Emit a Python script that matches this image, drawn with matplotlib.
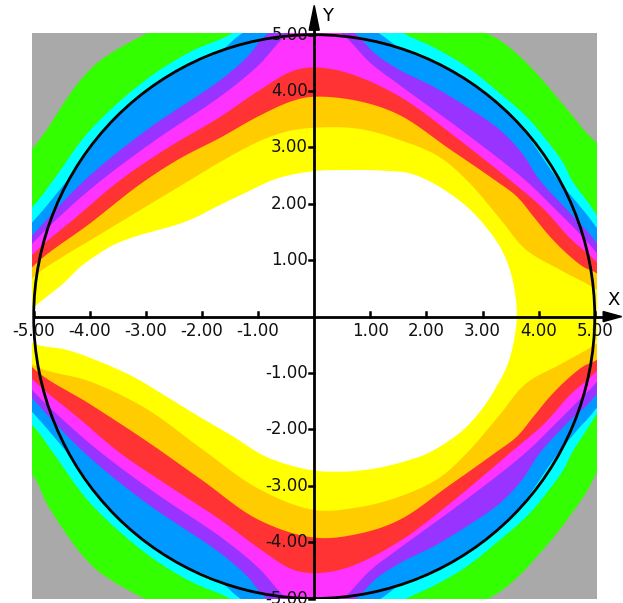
import numpy as np
import matplotlib
matplotlib.use("Agg")
import matplotlib.pyplot as plt
from matplotlib.patches import Circle, Polygon

# ---------------- data ----------------
# band colours, outermost (background) to innermost
band_colors = ["#A9A9A9", "#33FF00", "#00FFFF", "#0099FF", "#9933FF",
               "#FF33FF", "#FF3333", "#FFCC00", "#FFFF00", "#FFFFFF"]

# closed contour boundaries (x, y); region inside gets the next inner colour
edge_green = [(-5.8, 2.0), (-5.07, 2.92), (-4.77, 3.31), (-4.47, 3.78), (-4.17, 4.19), (-3.88, 4.49),
              (-3.58, 4.70), (-3.28, 4.87), (-2.93, 5.05), (-1.5, 5.8), (0.0, 6.2), (1.5, 5.8),
              (2.96, 5.08), (3.31, 4.90), (3.67, 4.61), (4.02, 4.25), (4.32, 3.90), (4.62, 3.54),
              (4.86, 3.25), (5.06, 3.04), (5.8, 1.5), (6.2, 0.0), (5.8, -1.5), (5.03, -2.78),
              (4.86, -3.1), (4.62, -3.45), (4.32, -3.85), (4.02, -4.2), (3.67, -4.58), (3.31, -4.88),
              (3.0, -5.05), (1.5, -5.8), (0.0, -6.2), (-1.5, -5.8), (-2.93, -5.05), (-3.28, -4.87),
              (-3.58, -4.70), (-3.88, -4.49), (-4.17, -4.19), (-4.47, -3.78), (-4.77, -3.31),
              (-5.0, -2.84), (-5.8, -2.0), (-6.2, 0.0)]
edge_cyan = [(-6.0, 1.0), (-5.0, 1.97), (-4.65, 2.42), (-4.0, 3.3), (-3.0, 4.2), (-2.2, 4.7), (-1.50, 5.0),
             (0.0, 5.9), (1.64, 5.0), (2.12, 4.78), (2.72, 4.43), (3.31, 3.96), (3.79, 3.54), (4.14, 3.13),
             (4.44, 2.72), (4.59, 2.42), (5.0, 1.85), (6.0, 0.0), (5.0, -1.78), (4.59, -2.42), (4.44, -2.72),
             (4.14, -3.13), (3.79, -3.54), (3.31, -3.96), (2.72, -4.43), (2.12, -4.78), (1.64, -5.0),
             (0.0, -5.9), (-1.50, -5.0), (-2.2, -4.7), (-3.0, -4.2), (-4.0, -3.3), (-4.65, -2.42),
             (-5.0, -1.95), (-6.0, -1.0)]
edge_blue = [(-5.9, 0.8), (-5.0, 1.70), (-4.40, 2.42), (-3.5, 3.57), (-2.5, 4.33), (-1.68, 4.70), (-1.32, 5.0),
             (0.0, 5.7), (1.19, 5.0), (1.53, 4.76), (2.5, 4.33), (3.5, 3.57), (4.35, 2.42), (4.7, 2.0),
             (5.0, 1.62), (6.0, 0.0), (5.0, -1.66), (4.7, -2.0), (4.35, -2.42), (3.5, -3.57), (2.5, -4.33),
             (1.53, -4.76), (1.19, -5.0), (0.0, -5.7), (-1.32, -5.0), (-1.68, -4.70), (-2.5, -4.33),
             (-3.5, -3.57), (-4.40, -2.42), (-5.0, -1.72), (-5.9, -0.8)]
edge_purple = [(-5.8, 0.6), (-5.0, 1.47), (-4.09, 2.42), (-3.0, 3.3), (-1.68, 4.19), (-1.2, 4.6), (-0.85, 5.0),
               (0.0, 5.5), (0.75, 5.0), (1.1, 4.65), (1.53, 4.37), (2.12, 4.08), (2.72, 3.72), (3.31, 3.31),
               (3.7, 2.9), (4.02, 2.42), (4.5, 1.9), (5.0, 1.35), (5.9, 0.0), (5.0, -1.42), (4.5, -1.9),
               (4.02, -2.42), (3.7, -2.9), (3.31, -3.31), (2.72, -3.72), (2.12, -4.08), (1.53, -4.37),
               (1.1, -4.65), (0.75, -5.0), (0.0, -5.5), (-0.85, -5.0), (-1.2, -4.6), (-1.68, -4.19),
               (-3.0, -3.3), (-4.09, -2.42), (-5.0, -1.48), (-5.8, -0.6)]
edge_magenta = [(-5.8, 0.4), (-5.0, 1.32), (-4.4, 1.9), (-3.79, 2.42), (-2.8, 3.15), (-1.68, 3.90), (-1.0, 4.45),
                (-0.49, 5.0), (0.0, 5.3), (0.51, 5.0), (1.0, 4.5), (1.53, 4.10), (2.7, 3.25), (3.76, 2.42),
                (4.3, 1.9), (4.7, 1.5), (5.0, 1.17), (5.9, 0.0), (5.0, -1.2), (4.7, -1.5), (4.3, -1.9),
                (3.76, -2.42), (2.7, -3.25), (1.53, -4.10), (1.0, -4.5), (0.51, -5.0), (0.0, -5.3),
                (-0.49, -5.0), (-1.0, -4.45), (-1.68, -3.90), (-2.8, -3.15), (-3.79, -2.42), (-4.4, -1.9),
                (-5.0, -1.33), (-5.8, -0.4)]
edge_red = [(-5.8, 0.2), (-5.0, 1.12), (-4.2, 1.8), (-3.46, 2.42), (-2.6, 3.0), (-1.68, 3.54), (-1.0, 4.0),
            (-0.4, 4.35), (0.0, 4.42), (0.6, 4.32), (1.53, 3.90), (2.5, 3.2), (3.49, 2.42), (4.1, 1.9),
            (4.55, 1.4), (5.0, 1.0), (5.9, 0.0), (5.0, -1.0), (4.55, -1.4), (4.1, -1.9), (3.49, -2.42),
            (2.5, -3.25), (1.53, -3.98), (0.6, -4.45), (0.0, -4.55), (-0.4, -4.48), (-1.0, -4.1),
            (-1.68, -3.6), (-2.6, -3.0), (-3.46, -2.42), (-4.2, -1.8), (-5.0, -1.13), (-5.8, -0.2)]
edge_orange = [(-5.7, 0.0), (-5.0, 0.90), (-4.0, 1.65), (-3.1, 2.35), (-2.4, 2.8), (-1.68, 3.17), (-1.0, 3.55),
               (-0.4, 3.82), (0.0, 3.9), (0.8, 3.82), (1.53, 3.57), (2.4, 2.98), (3.22, 2.42), (3.61, 2.13),
               (3.91, 1.77), (4.20, 1.42), (4.50, 1.12), (4.80, 0.88), (5.03, 0.77), (5.8, 0.0),
               (5.03, -0.77), (4.80, -0.88), (4.50, -1.12), (4.20, -1.42), (3.91, -1.77), (3.61, -2.13),
               (3.22, -2.42), (2.4, -3.0), (1.53, -3.6), (0.8, -3.85), (0.0, -3.92), (-1.0, -3.6),
               (-2.0, -2.9), (-3.0, -2.2), (-4.0, -1.55), (-5.0, -0.92)]
edge_yellow = [(-5.7, -0.2), (-5.0, 0.70), (-4.5, 1.05), (-4.0, 1.35), (-3.5, 1.65), (-3.0, 1.95), (-2.5, 2.25),
               (-2.0, 2.55), (-1.68, 2.74), (-1.0, 3.1), (-0.5, 3.28), (0.0, 3.35), (0.8, 3.33), (1.53, 3.13),
               (2.2, 2.85), (2.72, 2.42), (3.3, 1.75), (3.77, 1.19), (4.4, 0.82), (5.0, 0.5), (5.7, 0.0),
               (5.0, -0.5), (4.4, -0.84), (3.77, -1.19), (3.3, -1.75), (2.72, -2.42), (2.2, -2.88),
               (1.5, -3.2), (0.8, -3.38), (0.0, -3.43), (-1.0, -3.05), (-2.0, -2.35), (-3.0, -1.63),
               (-4.0, -1.15), (-5.0, -0.86)]
edge_white = [(-5.4, -0.12), (-5.0, 0.17), (-4.77, 0.35), (-4.47, 0.59), (-4.17, 0.88), (-3.88, 1.09),
              (-3.58, 1.27), (-3.28, 1.39), (-2.99, 1.48), (-2.69, 1.56), (-2.39, 1.65), (-2.09, 1.77),
              (-1.80, 1.92), (-1.26, 2.18), (-0.66, 2.45), (0.0, 2.58), (0.6, 2.60), (1.2, 2.59),
              (1.71, 2.54), (2.13, 2.36), (2.42, 2.18), (2.72, 1.95), (3.01, 1.65), (3.31, 1.24),
              (3.49, 0.82), (3.58, 0.41), (3.61, 0.0), (3.55, -0.48), (3.43, -0.89), (3.25, -1.24),
              (3.02, -1.60), (2.72, -1.95), (2.42, -2.19), (2.01, -2.43), (1.71, -2.54), (1.11, -2.69),
              (0.52, -2.75), (-0.07, -2.72), (-0.85, -2.49), (-1.44, -2.13), (-2.04, -1.78),
              (-2.63, -1.42), (-3.22, -1.07), (-3.82, -0.80), (-4.41, -0.59), (-5.01, -0.47)]

tick_values = [-5, -4, -3, -2, -1, 1, 2, 3, 4, 5]
tick_labels = ["-5.00", "-4.00", "-3.00", "-2.00", "-1.00", "1.00", "2.00", "3.00", "4.00", "5.00"]
circle_radius = 5.0


# ---------------- helpers ----------------
def smooth_loop(pts, n=12):
    """Centripetal Catmull-Rom curve through the read points (closed loop)."""
    p = np.asarray(pts, float)
    m = len(p)
    out = []
    for i in range(m):
        P0, P1, P2, P3 = p[(i - 1) % m], p[i], p[(i + 1) % m], p[(i + 2) % m]

        def tj(ti, a, b):
            return ti + max(np.hypot(*(b - a)), 1e-6) ** 0.5
        t0 = 0.0
        t1 = tj(t0, P0, P1)
        t2 = tj(t1, P1, P2)
        t3 = tj(t2, P2, P3)
        t = np.linspace(t1, t2, n, endpoint=False)[:, None]
        A1 = (t1 - t) / (t1 - t0) * P0 + (t - t0) / (t1 - t0) * P1
        A2 = (t2 - t) / (t2 - t1) * P1 + (t - t1) / (t2 - t1) * P2
        A3 = (t3 - t) / (t3 - t2) * P2 + (t - t2) / (t3 - t2) * P3
        B1 = (t2 - t) / (t2 - t0) * A1 + (t - t0) / (t2 - t0) * A2
        B2 = (t3 - t) / (t3 - t1) * A2 + (t - t1) / (t3 - t1) * A3
        out.append((t2 - t) / (t2 - t1) * B1 + (t - t1) / (t2 - t1) * B2)
    return np.vstack(out)


# ---------------- figure ----------------
W, H = 623, 603
fig = plt.figure(figsize=(W / 100, H / 100), dpi=100)
fig.patch.set_facecolor("white")
ax = fig.add_axes([32 / W, (H - 598.5) / H, 565 / W, 565.5 / H])
ax.set_xlim(-5.03, 5.04)
ax.set_ylim(-5.0, 5.03)
ax.set_facecolor(band_colors[0])
for s in ax.spines.values():
    s.set_visible(False)
ax.set_xticks([])
ax.set_yticks([])

edges = [edge_green, edge_cyan, edge_blue, edge_purple, edge_magenta,
         edge_red, edge_orange, edge_yellow, edge_white]
for k, edge in enumerate(edges):
    poly = Polygon(smooth_loop(edge), closed=True, facecolor=band_colors[k + 1],
                   edgecolor="none", antialiased=True, zorder=1 + k * 0.01)
    ax.add_patch(poly)

ax.add_patch(Circle((0, 0), circle_radius, fill=False, ec="black", lw=2.0, zorder=3))

# axes through origin
lw_axis = 2.0
ax.plot([-5.0, 5.2], [0, 0], color="black", lw=lw_axis, clip_on=False, zorder=4,
        solid_capstyle="butt")
ax.plot([0, 0], [-5.0, 5.2], color="black", lw=lw_axis, clip_on=False, zorder=4,
        solid_capstyle="butt")
ax.add_patch(Polygon([(5.15, 0.09), (5.48, 0.0), (5.15, -0.09)], closed=True,
                     color="black", clip_on=False, zorder=4))
ax.add_patch(Polygon([(-0.09, 5.08), (0.0, 5.52), (0.09, 5.08)], closed=True,
                     color="black", clip_on=False, zorder=4))

fs = 12
for v, lab in zip(tick_values, tick_labels):
    ax.plot([v, v], [0, 0.09], color="black", lw=1.8, clip_on=False, zorder=4)
    ax.text(v, -0.09, lab, ha="center", va="top", fontsize=fs,
            family="DejaVu Sans", color="#111111", zorder=5, clip_on=False)
    ax.plot([-0.1, 0], [v, v], color="black", lw=1.8, clip_on=False, zorder=4)
    ax.text(-0.11, v, lab, ha="right", va="center", fontsize=fs,
            family="DejaVu Sans", color="#111111", zorder=5, clip_on=False)

ax.text(5.33, 0.29, "X", ha="center", va="center", fontsize=13, family="DejaVu Sans",
        clip_on=False, zorder=5)
ax.text(0.23, 5.33, "Y", ha="center", va="center", fontsize=13, family="DejaVu Sans",
        clip_on=False, zorder=5)

fig.savefig("out.png", dpi=100)
